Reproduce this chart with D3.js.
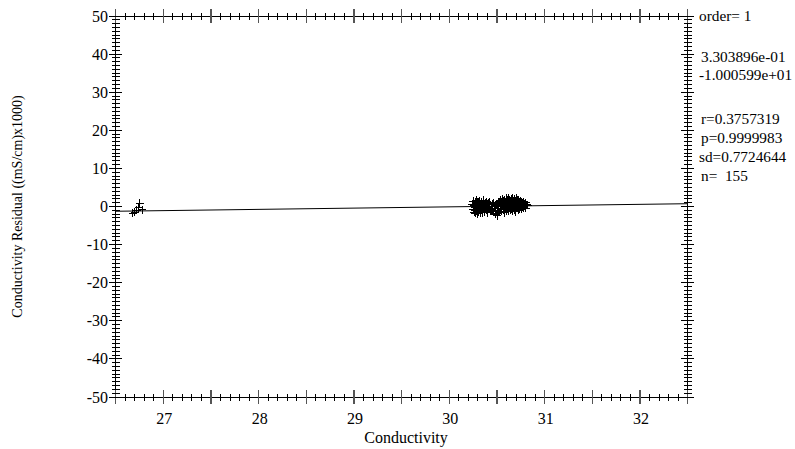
<!DOCTYPE html>
<html><head><meta charset="utf-8">
<script src="https://cdn.jsdelivr.net/npm/d3@7"></script>
<style>body{margin:0;background:#fff}svg{display:block}text{font-family:"Liberation Serif","Times New Roman",Times,serif;fill:#000;white-space:pre}</style>
</head><body><svg id="c" width="795" height="449"></svg>
<script>
const conductivity = [26.68,26.70,26.72,26.74,26.75,26.78,
30.24,30.25,30.25,30.26,30.26,30.27,30.27,30.27,30.28,30.28,
30.28,30.29,30.29,30.29,30.30,30.30,30.30,30.31,30.31,30.31,
30.32,30.32,30.33,30.33,30.33,30.34,30.34,30.35,30.35,30.36,
30.36,30.37,30.37,30.38,30.38,30.39,30.39,30.40,30.40,30.41,
30.42,30.42,30.43,30.44,30.44,30.45,30.46,30.46,30.47,30.48,
30.48,30.49,30.50,30.50,30.51,30.51,30.52,30.52,30.53,30.53,
30.54,30.54,30.55,30.55,30.55,30.56,30.56,30.57,30.57,30.57,
30.58,30.58,30.58,30.59,30.59,30.59,30.60,30.60,30.60,30.61,
30.61,30.61,30.62,30.62,30.62,30.63,30.63,30.63,30.64,30.64,
30.64,30.65,30.65,30.65,30.66,30.66,30.66,30.67,30.67,30.67,
30.68,30.68,30.68,30.69,30.69,30.69,30.70,30.70,30.70,30.71,
30.71,30.71,30.72,30.72,30.72,30.73,30.73,30.73,30.74,30.74,
30.74,30.75,30.75,30.75,30.76,30.76,30.76,30.77,30.77,30.78,
30.78,30.79,30.79,30.80,30.80,30.81,30.82,30.35,30.31,30.27,
30.66,30.62,30.58,30.71,30.45,30.50,30.39,30.60,30.68];
const residual = [-1.8,-1.5,-1.0,-0.3,0.8,-0.9,
0.6,-0.9,1.4,-1.5,0.2,1.2,-0.3,-1.8,0.8,-1.1,
1.6,-0.1,0.9,-1.3,0.3,-1.9,1.3,-0.5,1.1,-1.4,
0.1,1.5,-0.9,0.6,-1.6,1.2,-0.2,0.5,-1.2,1.7,
-0.6,0.2,-1.5,0.9,-0.4,1.3,-1.0,0.4,-1.7,0.8,
-0.2,1.1,-1.3,0.1,-0.8,0.6,-1.4,1.0,-0.5,0.2,
-2.0,0.7,-0.1,-2.4,0.5,-1.1,1.3,-0.4,0.9,-1.5,
0.3,1.6,-0.6,1.1,-1.2,2.0,0.2,-0.9,1.5,-0.2,
1.0,-1.6,1.8,0.5,-0.7,1.3,-0.1,2.2,-1.1,0.7,
1.6,-0.5,0.2,2.1,-1.3,1.1,-0.4,1.7,0.6,-1.0,
1.4,0.0,2.0,-0.6,0.9,2.3,-1.2,0.3,1.5,-0.2,
1.0,1.9,-0.9,0.5,1.3,-1.4,0.7,2.1,-0.5,1.1,
0.2,1.6,-1.0,0.6,1.4,-0.4,1.0,1.8,-0.7,0.3,
1.3,-0.1,0.9,1.5,-0.6,0.5,1.1,-0.2,0.7,1.3,
-0.5,0.6,0.2,1.0,-0.4,0.5,0.3,-1.7,1.1,-1.1,
1.8,-0.8,0.3,1.5,-1.1,-1.8,0.6,-0.9,0.7];
const fitCoef = [0.3303896, -10.00599]; // slope, intercept
const xDomain = [26.5, 32.5];
const yDomain = [-50, 50];
const xTickLabels = [27, 28, 29, 30, 31, 32];
const yTickLabels = [50, 40, 30, 20, 10, 0, -10, -20, -30, -40, -50];
const statsLines = [
  {t: "order= 1", dy: 0, dx: 0},
  {t: "3.303896e-01", dy: 41, dx: 2},
  {t: "-1.000599e+01", dy: 59, dx: 0},
  {t: "r=0.3757319", dy: 103, dx: 2},
  {t: "p=0.9999983", dy: 122, dx: 2},
  {t: "sd=0.7724644", dy: 141, dx: 0},
  {t: "n=  155", dy: 160, dx: 2}
];

const svg = d3.select("#c");
const FONT = "'Liberation Serif','Times New Roman',Times,serif";
const L = 115.7, R = 687.7, T = 16, B = 397;
const x = d3.scaleLinear().domain(xDomain).range([L, R]);
const y = d3.scaleLinear().domain(yDomain).range([B, T]);

const g = svg.append("g").attr("stroke", "#000").attr("stroke-width", 1).attr("shape-rendering", "crispEdges");
g.append("line").attr("x1", L).attr("x2", R).attr("y1", T).attr("y2", T);
g.append("line").attr("x1", L).attr("x2", R).attr("y1", B).attr("y2", B);
g.append("line").attr("x1", L).attr("x2", L).attr("y1", T).attr("y2", B);
g.append("line").attr("x1", R).attr("x2", R).attr("y1", T).attr("y2", B);

d3.range(265, 326).forEach(k => {
  const v = k / 10;
  const major = k % 5 === 0;
  const h = major ? 7 : 3.5;
  [T, B].forEach(yy => {
    g.append("line").attr("x1", x(v)).attr("x2", x(v)).attr("y1", yy - h).attr("y2", yy + h)
      .attr("stroke", major ? "#555" : "#000").attr("stroke-width", major ? 1.5 : 1);
  });
});
d3.range(-50, 51).forEach(v => {
  const major = v % 10 === 0;
  const w = major ? 6.5 : 4;
  [L, R].forEach(xx => {
    g.append("line").attr("x1", xx - w).attr("x2", xx + w).attr("y1", y(v)).attr("y2", y(v));
  });
});

svg.append("g").selectAll("text").data(xTickLabels).join("text")
  .attr("font-family", FONT)
  .attr("x", d => x(d) + 1).attr("y", 424).attr("text-anchor", "middle").attr("font-size", 16).text(d => d);
svg.append("g").selectAll("text").data(yTickLabels).join("text")
  .attr("font-family", FONT)
  .attr("x", 108).attr("y", d => y(d) + 5.5).attr("text-anchor", "end").attr("font-size", 16).text(d => d);

svg.append("text").attr("font-family", FONT).attr("x", 406).attr("y", 443).attr("text-anchor", "middle").attr("font-size", 16).text("Conductivity");
svg.append("text").attr("font-family", FONT).attr("transform", `translate(22,${(T + B) / 2}) rotate(-90)`).attr("text-anchor", "middle").attr("font-size", 14)
  .text("Conductivity Residual ((mS/cm)x1000)");

svg.append("line").attr("stroke", "#000").attr("stroke-width", 1)
  .attr("x1", x(xDomain[0])).attr("y1", y(fitCoef[0] * xDomain[0] + fitCoef[1]))
  .attr("x2", x(xDomain[1])).attr("y2", y(fitCoef[0] * xDomain[1] + fitCoef[1]));

const s = 4;
svg.append("path").attr("stroke", "#000").attr("stroke-width", 1).attr("fill", "none").attr("shape-rendering", "crispEdges")
  .attr("d", conductivity.map((c, i) => {
    const px = x(c), py = y(residual[i]);
    return `M${px - s},${py}H${px + s}M${px},${py - s}V${py + s}`;
  }).join(""));

svg.append("g").selectAll("text").data(statsLines).join("text")
  .attr("font-family", FONT).attr("xml:space", "preserve")
  .attr("x", d => 699 + d.dx).attr("y", d => 21 + d.dy).attr("font-size", 15.3).text(d => d.t);
</script></body></html>
